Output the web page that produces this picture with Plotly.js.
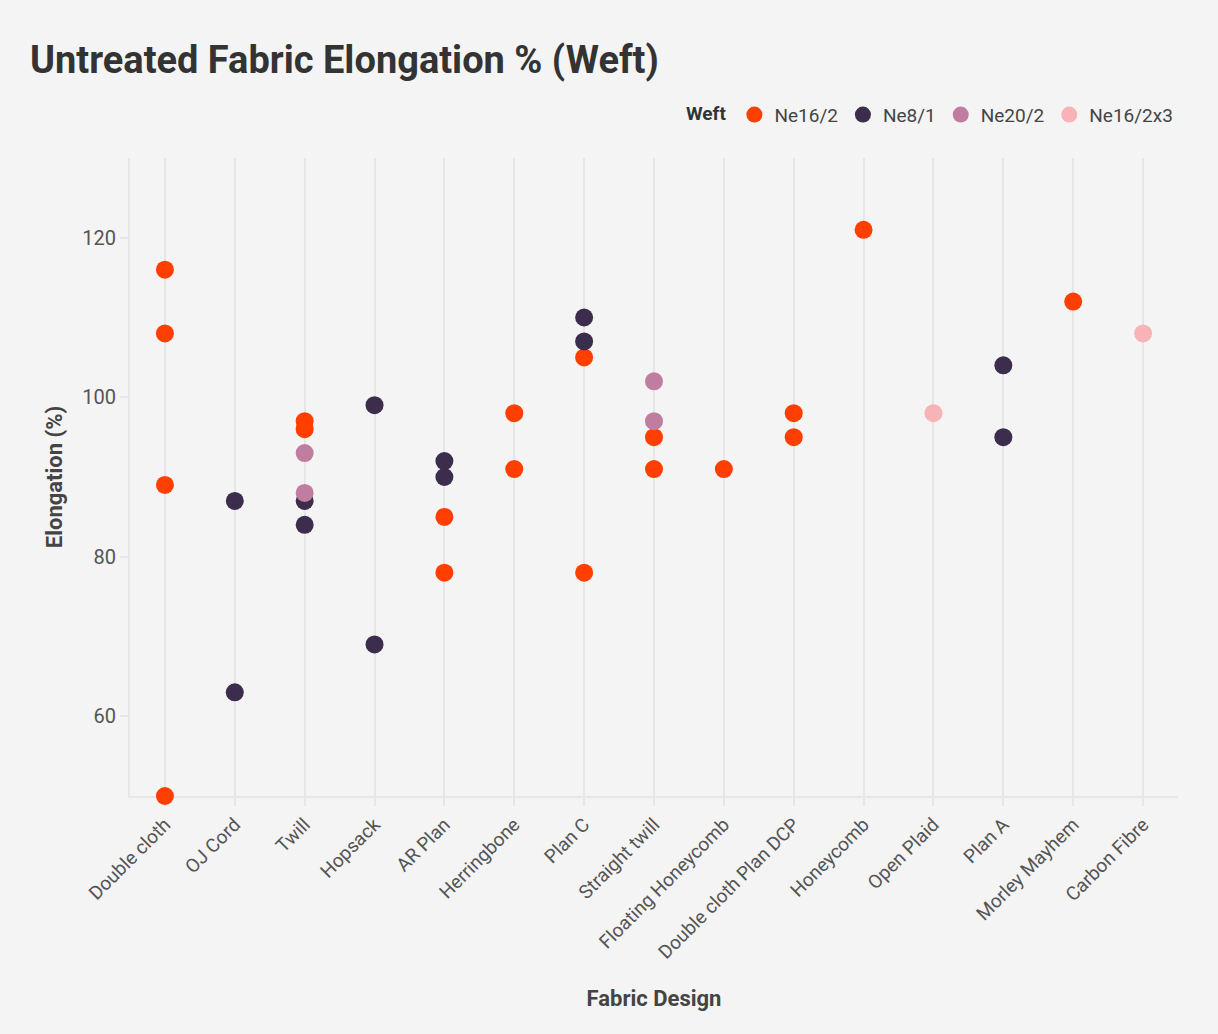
<!DOCTYPE html>
<html>
<head>
<meta charset="utf-8">
<script src="https://cdn.plot.ly/plotly-3.0.1.min.js"></script>
<style>html,body{margin:0;padding:0;background:#f4f4f4;}#chart{width:1218px;height:1034px;}</style>
</head>
<body>
<div id="chart"></div>
<script>
const categories = ["Double cloth","OJ Cord","Twill","Hopsack","AR Plan","Herringbone","Plan C","Straight twill","Floating Honeycomb","Double cloth Plan DCP","Honeycomb","Open Plaid","Plan A","Morley Mayhem","Carbon Fibre"];

const ne16_2_x = ["Double cloth","Double cloth","Double cloth","Double cloth","Twill","Twill","AR Plan","AR Plan","Herringbone","Herringbone","Plan C","Plan C","Straight twill","Straight twill","Floating Honeycomb","Double cloth Plan DCP","Double cloth Plan DCP","Honeycomb","Morley Mayhem"];
const ne16_2_y = [116,108,89,50,96,97,85,78,98,91,105,78,95,91,91,98,95,121,112];

const ne8_1_x = ["OJ Cord","OJ Cord","Twill","Twill","Hopsack","Hopsack","AR Plan","AR Plan","Plan C","Plan C","Plan A","Plan A"];
const ne8_1_y = [87,63,87,84,99,69,92,90,110,107,104,95];

const ne20_2_x = ["Twill","Twill","Straight twill","Straight twill"];
const ne20_2_y = [93,88,102,97];

const ne16_2x3_x = ["Open Plaid","Carbon Fibre"];
const ne16_2x3_y = [98,108];

const seriesNames = ["Ne16/2","Ne8/1","Ne20/2","Ne16/2x3"];
const yTicks = [60,80,100,120];

const colors = ["#ff3f00","#3b2d4b","#c07d9f","#f8b3b7"];
const xs = [ne16_2_x, ne8_1_x, ne20_2_x, ne16_2x3_x];
const ys = [ne16_2_y, ne8_1_y, ne20_2_y, ne16_2x3_y];

const traces = seriesNames.map((n,i)=>({
  type:"scatter", mode:"markers", name:n,
  x: xs[i], y: ys[i],
  marker:{color:colors[i], size:18, line:{width:0}},
  cliponaxis:false
}));

const layout = {
  width:1218, height:1034,
  paper_bgcolor:"#f4f4f4", plot_bgcolor:"#f4f4f4",
  font:{family:"Roboto, sans-serif", color:"#444"},
  margin:{l:130, r:40, t:158, b:238},
  title:{text:"<b>Untreated Fabric Elongation % (Weft)</b>", x:30/1218, xref:"container", xanchor:"left", y:1-60/1034, yref:"container", yanchor:"middle",
         font:{size:38, color:"#333", family:"Roboto, sans-serif"}},
  showlegend:true,
  legend:{orientation:"h", x:1, xanchor:"right", y:1.038, yanchor:"bottom",
          title:{text:"<b>Weft</b>", side:"left", font:{size:19, color:"#333"}},
          font:{size:19, color:"#444"}, bgcolor:"rgba(0,0,0,0)", itemwidth:30, tracegroupgap:0},
  xaxis:{
    type:"category", categoryorder:"array", categoryarray:categories,
    range:[-0.5, 14.5],
    showgrid:true, gridcolor:"#e6e6e6", gridwidth:2,
    showline:true, linecolor:"#e6e6e6", linewidth:2,
    ticks:"outside", ticklen:8, tickcolor:"#e6e6e6", tickwidth:2,
    tickangle:-45, tickfont:{size:19, color:"#555"},
    title:{text:"<b>Fabric Design</b>", font:{size:22, color:"#444"}, standoff:28},
    zeroline:false, automargin:false, layer:"below traces"
  },
  yaxis:{
    range:[50,130], tickvals:yTicks,
    showgrid:false,
    showline:true, linecolor:"#e6e6e6", linewidth:2,
    ticks:"outside", ticklen:8, tickcolor:"#e6e6e6", tickwidth:2,
    tickfont:{size:20, color:"#555"},
    title:{text:"<b>Elongation (%)</b>", font:{size:22, color:"#444"}, standoff:14},
    zeroline:false, automargin:false, layer:"below traces"
  }
};

Plotly.newPlot("chart", traces, layout, {displayModeBar:false, responsive:false});
</script>
</body>
</html>
